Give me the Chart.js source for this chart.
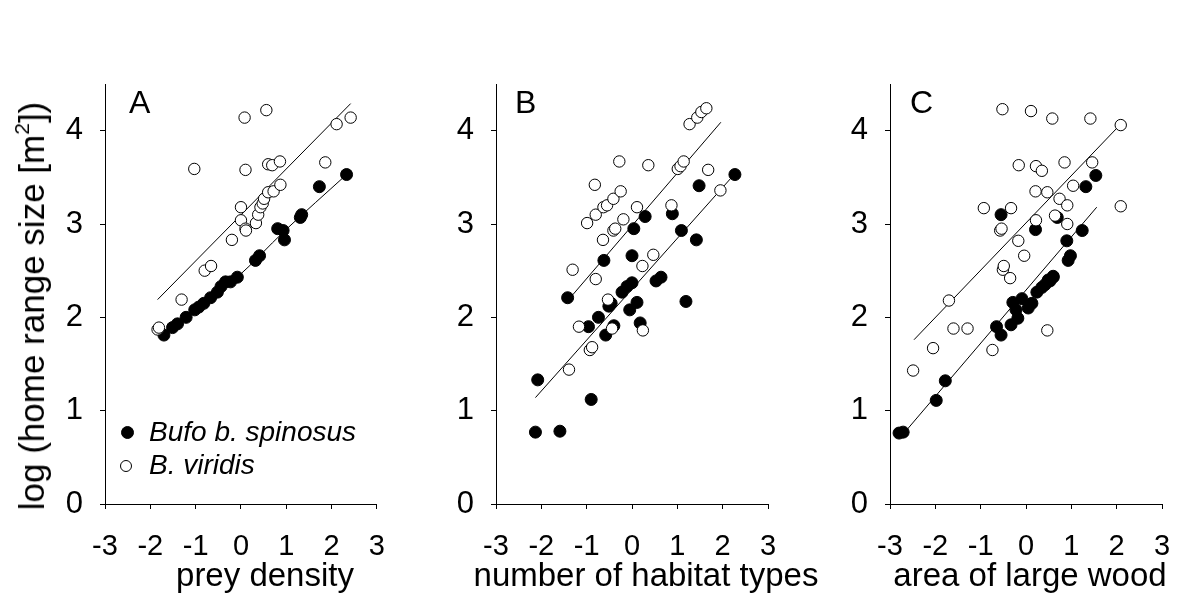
<!DOCTYPE html>
<html>
<head>
<meta charset="utf-8">
<script src="https://cdn.jsdelivr.net/npm/chart.js@4.4.1/dist/chart.umd.min.js"></script>
<style>
  body { margin: 0; background: #fff; }
  #wrap { position: relative; width: 1201px; height: 601px; font-family: "Liberation Sans", Arial, sans-serif; color: #000; }
  canvas { position: absolute; top: 0; }
  .letter { position: absolute; font-size: 32px; line-height: 32px; }
  .ytitle { position: absolute; left: 32px; top: 306px; font-size: 35px; white-space: nowrap;
            transform: translate(-50%, -50%) rotate(-90deg); }
  .ytitle sup { font-size: 60%; vertical-align: 0.7em; line-height: 0; }
  .xtitle { position: absolute; top: 558px; font-size: 33px; line-height: 33px; white-space: nowrap; transform: translateX(-50%); }
  .leg { position: absolute; left: 149px; font-size: 28px; line-height: 28px; font-style: italic; white-space: nowrap; }
  .dot { position: absolute; border-radius: 50%; box-sizing: border-box; border: 1px solid #000; }
</style>
</head>
<body>
<div id="wrap">
  <canvas id="chartA" width="406" height="601" style="left:0px"></canvas>
  <canvas id="chartB" width="400" height="601" style="left:400px"></canvas>
  <canvas id="chartC" width="401" height="601" style="left:800px"></canvas>
  <div class="ytitle">log (home range size [m<sup>2</sup>])</div>
  <div class="letter" style="left:129px;top:86px">A</div>
  <div class="letter" style="left:515px;top:86px">B</div>
  <div class="letter" style="left:910px;top:86px">C</div>
  <div class="xtitle" style="left:265px">prey density</div>
  <div class="xtitle" style="left:646px">number of habitat types</div>
  <div class="xtitle" style="left:1030px">area of large wood</div>
  <div class="dot" style="left:121px;top:426px;width:13px;height:13px;background:#000"></div>
  <div class="leg" style="top:418px">Bufo b. spinosus</div>
  <div class="dot" style="left:120px;top:460px;width:12px;height:12px;background:#fff"></div>
  <div class="leg" style="top:451px">B. viridis</div>
</div>
<script>
// ticks
const xTicks = [-3, -2, -1, 0, 1, 2, 3];
const yTicks = [0, 1, 2, 3, 4];

// A: prey density
const preyViridisX = [-1.84, -1.81, -1.31, -1.03, -0.80, -0.66, -0.20, 0.00, 0.00, 0.08, 0.10, 0.10, 0.11, 0.33, 0.38, 0.43, 0.48, 0.51, 0.56, 0.60, 0.60, 0.69, 0.72, 0.86, 0.87, 1.86, 2.11, 2.42];
const preyViridisY = [1.87, 1.89, 2.19, 3.59, 2.50, 2.55, 2.83, 3.18, 3.04, 4.14, 3.58, 2.95, 2.93, 3.01, 3.10, 3.18, 3.22, 3.27, 4.22, 3.34, 3.64, 3.63, 3.35, 3.67, 3.42, 3.66, 4.07, 4.14];
const preyBufoX = [-1.70, -1.51, -1.40, -1.21, -1.02, -0.93, -0.82, -0.67, -0.52, -0.44, -0.34, -0.23, -0.08, 0.32, 0.41, 0.81, 0.93, 0.96, 1.31, 1.34, 1.73, 2.33];
const preyBufoY = [1.81, 1.89, 1.93, 2.00, 2.08, 2.11, 2.15, 2.21, 2.27, 2.33, 2.38, 2.38, 2.43, 2.61, 2.66, 2.95, 2.93, 2.83, 3.07, 3.10, 3.40, 3.53];
const preyViridisFitX = [-1.84, 2.42];
const preyViridisFitY = [2.19, 4.29];
const preyBufoFitX = [-1.70, -0.08, 0.95, 2.33];
const preyBufoFitY = [1.81, 2.43, 2.92, 3.53];

// B: number of habitat types
const habViridisX = [-1.39, -1.31, -1.17, -0.99, -0.93, -0.88, -0.82, -0.80, -0.80, -0.64, -0.63, -0.55, -0.53, -0.44, -0.41, -0.41, -0.37, -0.28, -0.25, -0.19, 0.11, 0.23, 0.24, 0.36, 0.47, 0.87, 1.01, 1.07, 1.14, 1.27, 1.44, 1.53, 1.64, 1.68, 1.95];
const habViridisY = [1.44, 2.51, 1.90, 3.01, 1.65, 1.68, 3.42, 3.10, 2.41, 2.83, 3.18, 3.20, 2.19, 1.88, 3.27, 2.93, 2.95, 3.67, 3.35, 3.05, 3.18, 2.55, 1.86, 3.63, 2.67, 3.20, 3.59, 3.62, 3.67, 4.07, 4.14, 4.20, 4.24, 3.58, 3.36];
const habBufoX = [-2.13, -2.08, -1.59, -1.42, -0.96, -0.90, -0.74, -0.62, -0.58, -0.51, -0.46, -0.40, -0.22, -0.11, -0.05, 0.00, 0.00, 0.04, 0.11, 0.18, 0.29, 0.53, 0.64, 0.89, 1.09, 1.19, 1.42, 1.48, 2.27];
const habBufoY = [0.77, 1.33, 0.78, 2.21, 1.90, 1.12, 2.00, 2.61, 1.81, 2.12, 2.15, 1.91, 2.27, 2.33, 2.08, 2.37, 2.66, 2.95, 2.16, 1.94, 3.08, 2.39, 2.43, 3.11, 2.93, 2.17, 2.83, 3.41, 3.53];
const habViridisFitX = [-1.31, 1.96];
const habViridisFitY = [2.24, 4.09];
const habBufoFitX = [-2.13, 2.29];
const habBufoFitY = [1.14, 3.55];

// C: area of large wood
const woodViridisX = [-2.49, -2.05, -1.70, -1.60, -1.29, -0.93, -0.74, -0.57, -0.54, -0.52, -0.51, -0.49, -0.35, -0.33, -0.17, -0.16, -0.04, 0.11, 0.21, 0.22, 0.22, 0.35, 0.47, 0.47, 0.58, 0.64, 0.74, 0.85, 0.91, 0.91, 1.04, 1.42, 1.46, 2.09, 2.09];
const woodViridisY = [1.43, 1.67, 2.18, 1.88, 1.88, 3.17, 1.65, 2.93, 2.95, 4.23, 2.51, 2.55, 2.42, 3.17, 2.82, 3.63, 2.66, 4.21, 3.35, 3.62, 3.04, 3.57, 3.34, 1.86, 4.13, 3.09, 3.27, 3.66, 3.20, 3.00, 3.41, 4.13, 3.66, 4.06, 3.19];
const woodBufoX = [-2.80, -2.71, -1.98, -1.78, -0.65, -0.55, -0.55, -0.33, -0.29, -0.22, -0.18, -0.09, 0.05, 0.13, 0.21, 0.24, 0.35, 0.42, 0.49, 0.53, 0.60, 0.60, 0.69, 0.90, 0.93, 0.98, 1.24, 1.32, 1.54];
const woodBufoY = [0.76, 0.77, 1.11, 1.32, 1.90, 1.81, 3.10, 1.92, 2.16, 2.08, 1.99, 2.20, 2.10, 2.15, 2.94, 2.27, 2.32, 2.35, 2.40, 2.39, 2.44, 2.43, 3.07, 2.82, 2.61, 2.66, 2.93, 3.40, 3.52];
const woodViridisFitX = [-2.47, 2.05];
const woodViridisFitY = [1.76, 4.05];
const woodBufoFitX = [-2.69, 1.56];
const woodBufoFitY = [0.76, 3.18];

const FONT = '"Liberation Sans", Arial, sans-serif';

function pts(xs, ys) {
  return xs.map((x, i) => ({ x: x, y: ys[i] }));
}

function fitLine(xs, ys) {
  return {
    type: 'line',
    data: pts(xs, ys),
    borderColor: '#000',
    borderWidth: 1,
    pointRadius: 0,
    fill: false,
    cubicInterpolationMode: 'monotone',
    order: 3
  };
}

// axisWidth: room left of the y axis; padRight: room right of the plot
function makePanel(id, axisWidth, padRight, vX, vY, bX, bY, vfX, vfY, bfX, bfY) {
  const ctx = document.getElementById(id);
  return new Chart(ctx, {
    type: 'scatter',
    data: {
      datasets: [
        {
          data: pts(vX, vY),
          pointRadius: 5.7,
          pointBackgroundColor: '#fff',
          pointBorderColor: '#000',
          pointBorderWidth: 1,
          order: 1
        },
        {
          data: pts(bX, bY),
          pointRadius: 6,
          pointBackgroundColor: '#000',
          pointBorderColor: '#000',
          pointBorderWidth: 1,
          order: 2
        },
        fitLine(vfX, vfY),
        fitLine(bfX, bfY)
      ]
    },
    options: {
      responsive: false,
      animation: false,
      devicePixelRatio: 1,
      layout: { padding: { left: 0, right: padRight, top: 84, bottom: 0 } },
      plugins: { legend: { display: false }, tooltip: { enabled: false } },
      scales: {
        x: {
          type: 'linear',
          min: xTicks[0],
          max: xTicks[xTicks.length - 1],
          afterBuildTicks: s => { s.ticks = xTicks.map(v => ({ value: v })); },
          afterFit: s => { s.height = 97; },
          ticks: { color: '#000', font: { family: FONT, size: 29 }, padding: 21 },
          grid: { drawOnChartArea: false, drawTicks: true, tickLength: 5, color: '#000' },
          border: { color: '#000', width: 1 }
        },
        y: {
          type: 'linear',
          min: 0,
          max: 4.5,
          afterBuildTicks: s => { s.ticks = yTicks.map(v => ({ value: v })); },
          afterFit: s => { s.width = axisWidth; },
          ticks: { color: '#000', font: { family: FONT, size: 31 }, padding: 17 },
          grid: { drawOnChartArea: false, drawTicks: true, tickLength: 5, color: '#000' },
          border: { color: '#000', width: 1 }
        }
      }
    }
  });
}

makePanel('chartA', 105, 29,
  preyViridisX, preyViridisY, preyBufoX, preyBufoY,
  preyViridisFitX, preyViridisFitY, preyBufoFitX, preyBufoFitY);
makePanel('chartB', 96, 32,
  habViridisX, habViridisY, habBufoX, habBufoY,
  habViridisFitX, habViridisFitY, habBufoFitX, habBufoFitY);
makePanel('chartC', 90, 39,
  woodViridisX, woodViridisY, woodBufoX, woodBufoY,
  woodViridisFitX, woodViridisFitY, woodBufoFitX, woodBufoFitY);
</script>
</body>
</html>
